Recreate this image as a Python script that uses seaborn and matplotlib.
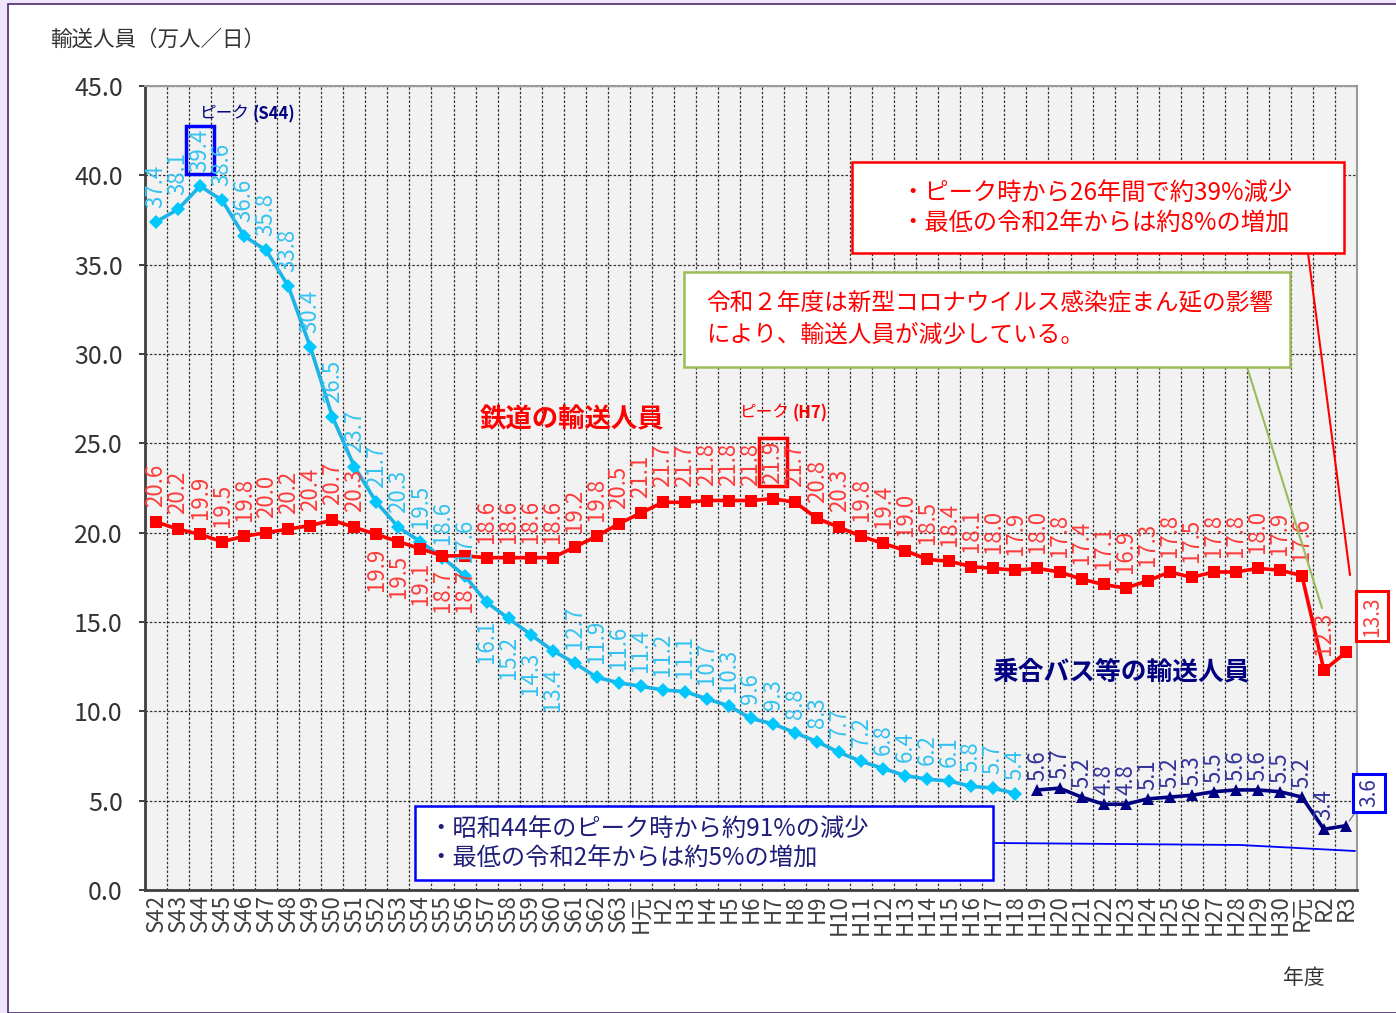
import numpy as np
import pandas as pd
import seaborn as sns
import matplotlib.pyplot as plt
from matplotlib.patches import Rectangle
from matplotlib.lines import Line2D

# 年度 (S42 - R3)
years = ["S42", "S43", "S44", "S45", "S46", "S47", "S48", "S49", "S50", "S51",
         "S52", "S53", "S54", "S55", "S56", "S57", "S58", "S59", "S60", "S61",
         "S62", "S63", "H元", "H2", "H3", "H4", "H5", "H6", "H7", "H8",
         "H9", "H10", "H11", "H12", "H13", "H14", "H15", "H16", "H17", "H18",
         "H19", "H20", "H21", "H22", "H23", "H24", "H25", "H26", "H27", "H28",
         "H29", "H30", "R元", "R2", "R3"]

# 鉄道の輸送人員 (万人/日)
rail = [20.6, 20.2, 19.9, 19.5, 19.8, 20.0, 20.2, 20.4, 20.7, 20.3,
        19.9, 19.5, 19.1, 18.7, 18.7, 18.6, 18.6, 18.6, 18.6, 19.2,
        19.8, 20.5, 21.1, 21.7, 21.7, 21.8, 21.8, 21.8, 21.9, 21.7,
        20.8, 20.3, 19.8, 19.4, 19.0, 18.5, 18.4, 18.1, 18.0, 17.9,
        18.0, 17.8, 17.4, 17.1, 16.9, 17.3, 17.8, 17.5, 17.8, 17.8,
        18.0, 17.9, 17.6, 12.3, 13.3]

# 乗合バスの輸送人員 S42 - H18
bus_old = [37.4, 38.1, 39.4, 38.6, 36.6, 35.8, 33.8, 30.4, 26.5, 23.7,
           21.7, 20.3, 19.5, 18.6, 17.6, 16.1, 15.2, 14.3, 13.4, 12.7,
           11.9, 11.6, 11.4, 11.2, 11.1, 10.7, 10.3, 9.6, 9.3, 8.8,
           8.3, 7.7, 7.2, 6.8, 6.4, 6.2, 6.1, 5.8, 5.7, 5.4]

# 乗合バス等の輸送人員 H19 - R3
bus_new = [5.6, 5.7, 5.2, 4.8, 4.8, 5.1, 5.2, 5.3, 5.5, 5.6,
           5.6, 5.5, 5.2, 3.4, 3.6]

W, H = 1396, 1013


def fx(x):
    return x / W


def fy(y):
    return 1 - y / H


sns.set_theme(style="white")
plt.rcParams['font.family'] = ['Noto Sans CJK JP', 'DejaVu Sans']

RED = "#ff0000"
RED_LBL = "#ff3b3b"
CYAN = "#1cb3e6"
CYAN_LBL = "#33c2f0"
NAVY = "#000080"
NAVY_LBL = "#333399"
GREEN = "#9bbb59"

rail_df = pd.DataFrame({"x": np.arange(len(rail)), "v": rail})
old_df = pd.DataFrame({"x": np.arange(len(bus_old)), "v": bus_old})
new_df = pd.DataFrame({"x": np.arange(len(bus_new)) + len(bus_old), "v": bus_new})

fig = plt.figure(figsize=(W / 100, H / 100), dpi=100)
fig.patch.set_facecolor("#efe6fb")
fig.add_artist(Rectangle((fx(8), 0), 1, fy(4), transform=fig.transFigure,
                         fc="white", ec="#4b2a6e", lw=1.2, zorder=-10))

ax = fig.add_axes([fx(145), fy(890), fx(1357) - fx(145), fy(86) - fy(890)])
ax.set_facecolor("#f2f2f2")

sns.lineplot(data=old_df, x="x", y="v", ax=ax, color=CYAN, lw=2.6, marker="D",
             markersize=7, markerfacecolor="#00c8ff", markeredgewidth=0, zorder=3)
sns.lineplot(data=rail_df, x="x", y="v", ax=ax, color=RED, lw=2.6, marker="s",
             markersize=8.5, markerfacecolor=RED, markeredgewidth=0, zorder=4)
sns.lineplot(data=new_df, x="x", y="v", ax=ax, color=NAVY, lw=2.6, marker="^",
             markersize=9, markerfacecolor=NAVY, markeredgewidth=0, zorder=4)

ax.set_xlim(-0.5, len(years) - 0.5)
ax.set_ylim(0, 45)
ax.set_yticks(np.arange(0, 45.1, 5))
ax.set_yticklabels([f"{v:.1f}" for v in np.arange(0, 45.1, 5)], fontsize=18, color="#333333")
ax.set_xticks(np.arange(len(years)))
ax.set_xticklabels(years, rotation=90, fontsize=16, color="#404040")
ax.set_xticks(np.arange(-0.5, len(years), 1), minor=True)
ax.tick_params(axis="x", which="both", length=0, pad=3)
ax.tick_params(axis="y", length=4, pad=12, direction="out", left=True)
ax.set_xlabel("")
ax.set_ylabel("")
ax.grid(axis="y", which="major", color="#333333", lw=0.9, ls=(0, (2, 1.5)))
ax.grid(axis="x", which="minor", color="#333333", lw=0.9, ls=(0, (2, 1.5)))
for side in ["top", "right"]:
    ax.spines[side].set_color("#9a9a9a")
    ax.spines[side].set_linewidth(1.5)
for side in ["left", "bottom"]:
    ax.spines[side].set_color("#404040")
    ax.spines[side].set_linewidth(2)

# data labels
lbl_kw = dict(rotation=90, ha="center", fontsize=16, textcoords="offset pixels",
              annotation_clip=False, zorder=6)
for i, v in enumerate(rail):
    if i == len(rail) - 1:
        continue
    below = 10 <= i <= 14
    kw = dict(lbl_kw)
    if i == 28:
        kw["bbox"] = dict(boxstyle="square,pad=0.1", fc="none", ec=RED, lw=2.5)
    ax.annotate(f"{v:.1f}", (i, v), xytext=(0, -13 if below else 15),
                va="top" if below else "bottom", color=RED_LBL, **kw)
for i, v in enumerate(bus_old):
    below = 15 <= i <= 18
    kw = dict(lbl_kw)
    if i == 2:
        kw["bbox"] = dict(boxstyle="square,pad=0.1", fc="none", ec="#0000ff", lw=2.5)
    ax.annotate(f"{v:.1f}", (i, v), xytext=(0, -17 if below else 14),
                va="top" if below else "bottom", color=CYAN_LBL, **kw)
for j, v in enumerate(bus_new):
    i = j + len(bus_old)
    if j == len(bus_new) - 1:
        continue
    ax.annotate(f"{v:.1f}", (i, v), xytext=(0, 9), va="bottom", color=NAVY_LBL, **lbl_kw)

# boxed labels for R3
ax.annotate(f"{rail[-1]:.1f}", (len(rail) - 1, rail[-1]), xytext=(26, 36),
            textcoords="offset pixels", rotation=90, ha="center", va="center",
            fontsize=15, color=RED_LBL, annotation_clip=False, zorder=7,
            bbox=dict(boxstyle="square,pad=0.22", fc="white", ec=RED, lw=2.2))
ax.annotate(f"{bus_new[-1]:.1f}", (len(years) - 1, bus_new[-1]), xytext=(23, 33),
            textcoords="offset pixels", rotation=90, ha="center", va="center",
            fontsize=15, color=NAVY_LBL, annotation_clip=False, zorder=7,
            bbox=dict(boxstyle="square,pad=0.22", fc="white", ec="#0000ff", lw=2.2),
            arrowprops=dict(arrowstyle="-", color="#808080", lw=1, shrinkA=0, shrinkB=4))

# series names and peaks
fig.text(fx(480), fy(420), "鉄道の輸送人員", fontsize=19, fontweight="bold",
         color=RED, va="center", ha="left")
fig.text(fx(992), fy(672), "乗合バス等の輸送人員", fontsize=18.5, fontweight="bold",
         color=NAVY, va="center", ha="left")
fig.text(fx(200), fy(114), "ピーク", fontsize=12, color=NAVY, va="center", ha="left")
fig.text(fx(253), fy(114), "(S44)", fontsize=12, color=NAVY, fontweight="bold",
         va="center", ha="left")
fig.text(fx(740), fy(413), "ピーク", fontsize=12, color=RED, va="center", ha="left")
fig.text(fx(793), fy(413), "(H7)", fontsize=12, color=RED, fontweight="bold",
         va="center", ha="left")

# comment boxes
fig.add_artist(Line2D([fx(1308), fx(1350)], [fy(253), fy(575)], color=RED, lw=1.5, zorder=5))
fig.add_artist(Line2D([fx(1248), fx(1322)], [fy(370), fy(608)], color=GREEN, lw=1.5, zorder=5))
fig.add_artist(Line2D([fx(995), fx(1240), fx(1355)], [fy(843), fy(845), fy(851)],
                      color="#0000ff", lw=1.3, zorder=5))

fig.add_artist(Rectangle((fx(852), fy(253)), fx(1344) - fx(852), fy(162) - fy(253),
                         transform=fig.transFigure, fc="white", ec=RED, lw=1.8, zorder=6))
fig.text(fx(900), fy(193), "・ピーク時から26年間で約39%減少", fontsize=17.5, color=RED,
         va="center", ha="left", zorder=7)
fig.text(fx(900), fy(224), "・最低の令和2年からは約8%の増加", fontsize=17.5, color=RED,
         va="center", ha="left", zorder=7)

fig.add_artist(Rectangle((fx(684), fy(367)), fx(1290) - fx(684), fy(272) - fy(367),
                         transform=fig.transFigure, fc="white", ec=GREEN, lw=1.8, zorder=6))
fig.text(fx(706), fy(303), "令和２年度は新型コロナウイルス感染症まん延の影響", fontsize=17,
         color=RED, va="center", ha="left", zorder=7)
fig.text(fx(706), fy(335), "により、輸送人員が減少している。", fontsize=17,
         color=RED, va="center", ha="left", zorder=7)

fig.add_artist(Rectangle((fx(415), fy(880)), fx(993) - fx(415), fy(806) - fy(880),
                         transform=fig.transFigure, fc="white", ec="#0000ff", lw=1.8, zorder=6))
fig.text(fx(428), fy(829), "・昭和44年のピーク時から約91%の減少", fontsize=17.5,
         color="#1f1f7a", va="center", ha="left", zorder=7)
fig.text(fx(428), fy(859), "・最低の令和2年からは約5%の増加", fontsize=17.5,
         color="#1f1f7a", va="center", ha="left", zorder=7)

# axis titles
fig.text(fx(50), fy(40), "輸送人員（万人／日）", fontsize=15.5, color="#333333",
         va="center", ha="left")
fig.text(fx(1304), fy(978), "年度", fontsize=15, color="#333333", va="center", ha="center")

fig.savefig("out.png", dpi=100, facecolor=fig.get_facecolor())
